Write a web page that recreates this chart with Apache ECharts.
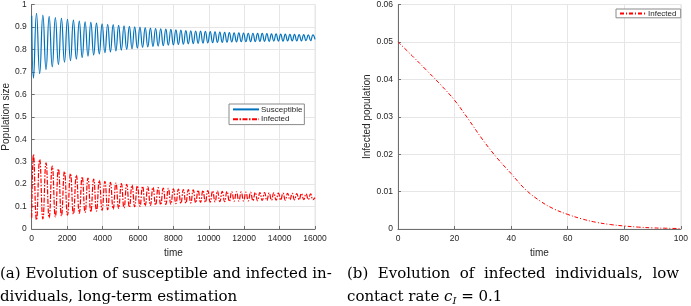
<!DOCTYPE html>
<html><head><meta charset="utf-8">
<script src="https://cdn.jsdelivr.net/npm/echarts@6/dist/echarts.min.js"></script>
<style>html,body{margin:0;padding:0;background:#fff}#c{width:691px;height:306px}</style>
</head><body><div id="c"></div>
<script>
// ---- Panel (a): long-term oscillation, extrema ----
const startTime = 0, endTime = 16000;
const susceptibleStart = 0.95, susceptibleEnd = 0.845;
const infectedStart = 0.05, infectedEnd = 0.14;

// times of susceptible troughs (= infected peaks)
const troughTimes = [100,450,808,1160,1508,1850,2188,2521,2851,3177,3499,3818,4133,4446,4755,5062,5365,5666,5965,6262,6557,6850,7141,7430,7717,8002,8285,8566,8845,9122,9398,9672,9946,10218,10490,10760,11030,11298,11566,11832,12098,12362,12626,12888,13150,13412,13672,13933,14193,14453,14713,14973,15233,15493,15753];
// times of susceptible peaks (= infected troughs)
const peakTimes = [270,630,985,1335,1680,2020,2355,2687,3015,3339,3659,3976,4290,4601,4909,5214,5516,5816,6114,6410,6704,6996,7286,7574,7860,8144,8426,8706,8984,9260,9535,9809,10082,10354,10625,10895,11164,11432,11699,11965,12230,12494,12757,13019,13281,13542,13803,14063,14323,14583,14843,15103,15363,15623,15883];

const susceptibleTroughs = [0.672,0.692,0.710,0.722,0.733,0.743,0.750,0.757,0.764,0.770,0.775,0.780,0.785,0.789,0.793,0.797,0.800,0.803,0.806,0.809,0.811,0.813,0.815,0.817,0.819,0.820,0.822,0.823,0.825,0.826,0.827,0.828,0.829,0.830,0.831,0.831,0.832,0.833,0.833,0.834,0.834,0.835,0.835,0.836,0.836,0.836,0.837,0.837,0.837,0.838,0.838,0.838,0.838,0.839,0.839];
const susceptiblePeaks = [0.961,0.953,0.947,0.942,0.938,0.934,0.930,0.926,0.923,0.920,0.917,0.914,0.912,0.910,0.907,0.905,0.903,0.901,0.899,0.897,0.895,0.893,0.892,0.890,0.889,0.887,0.886,0.884,0.883,0.882,0.881,0.880,0.879,0.878,0.877,0.876,0.875,0.874,0.874,0.873,0.872,0.872,0.871,0.871,0.870,0.869,0.869,0.868,0.868,0.867,0.867,0.866,0.866,0.865,0.865];
const infectedPeaks = [0.332,0.310,0.295,0.280,0.267,0.256,0.247,0.240,0.233,0.227,0.222,0.217,0.212,0.208,0.205,0.202,0.199,0.196,0.193,0.190,0.188,0.186,0.184,0.182,0.181,0.179,0.178,0.176,0.175,0.174,0.173,0.172,0.171,0.170,0.169,0.168,0.167,0.166,0.166,0.165,0.164,0.164,0.163,0.162,0.162,0.161,0.161,0.160,0.160,0.159,0.159,0.158,0.158,0.157,0.157];
const infectedTroughs = [0.040,0.045,0.050,0.054,0.058,0.062,0.066,0.070,0.074,0.077,0.080,0.083,0.086,0.089,0.092,0.094,0.097,0.099,0.101,0.103,0.105,0.107,0.108,0.110,0.111,0.113,0.114,0.115,0.116,0.117,0.118,0.119,0.120,0.121,0.122,0.122,0.123,0.124,0.124,0.125,0.125,0.126,0.126,0.127,0.127,0.128,0.128,0.129,0.129,0.130,0.130,0.130,0.131,0.131,0.131];

// ---- Panel (b): low contact rate ----
const lowTimes = [0,5,10,15,20,25,30,35,40,45,50,55,60,65,70,75,80,85,90,95,100];
const lowInfected = [0.0500,0.0463,0.0425,0.0386,0.0344,0.0292,0.0238,0.0190,0.0148,0.0106,0.0076,0.0054,0.0039,0.0027,0.0018,0.0012,0.0008,0.0005,0.0003,0.0002,0.0001];

// build series data
const sData = [[startTime, susceptibleStart]];
const iData = [[startTime, infectedStart]];
for (let k = 0; k < peakTimes.length; k++) {
  sData.push([troughTimes[k], susceptibleTroughs[k]]);
  sData.push([peakTimes[k], susceptiblePeaks[k]]);
  iData.push([troughTimes[k], infectedPeaks[k]]);
  iData.push([peakTimes[k], infectedTroughs[k]]);
}
sData.push([endTime, susceptibleEnd]);
iData.push([endTime, infectedEnd]);
const lowData = lowTimes.map((t, i) => [t, lowInfected[i]]);

const AX = '#6e6e6e', TXT = '#262626', GRID = '#e6e6e6';
const SANS = 'Liberation Sans, Arial, sans-serif';
const SERIF = 'DejaVu Serif, serif';
const CAP = '15px ' + SERIF;
const fmt = d => v => String(+v.toFixed(d));

function xAxis(grid, max, interval) {
  return {
    type: 'value', gridIndex: grid, min: 0, max: max, interval: interval,
    name: 'time', nameLocation: 'middle', nameGap: 19,
    nameTextStyle: { fontFamily: SANS, fontSize: 10, color: TXT },
    axisLine: { onZero: false, lineStyle: { color: AX, width: 1 } },
    axisTick: { inside: true, length: 3, lineStyle: { color: AX } },
    axisLabel: { fontFamily: SANS, fontSize: 8.5, color: TXT, margin: 5, formatter: fmt(0) },
    splitLine: { show: true, lineStyle: { color: GRID, width: 1 } }
  };
}
function yAxis(grid, max, interval, name, gap, dec) {
  return {
    type: 'value', gridIndex: grid, min: 0, max: max, interval: interval,
    name: name, nameLocation: 'middle', nameGap: gap,
    nameTextStyle: { fontFamily: SANS, fontSize: 10, color: TXT },
    axisLine: { onZero: false, lineStyle: { color: AX, width: 1 } },
    axisTick: { inside: true, length: 3, lineStyle: { color: AX } },
    axisLabel: { fontFamily: SANS, fontSize: 8.5, color: TXT, margin: 5, formatter: fmt(dec) },
    splitLine: { show: true, lineStyle: { color: GRID, width: 1 } }
  };
}

const legendCommon = {
  orient: 'vertical', itemWidth: 26, itemHeight: 11, itemGap: 1,
  backgroundColor: '#fff', borderColor: '#8a8a8a', borderWidth: 1, borderRadius: 0,
  itemStyle: { opacity: 0 },
  textStyle: { fontFamily: SANS, fontSize: 8, color: TXT, padding: [0, 0, 0, -3] }
};

const chart = echarts.init(document.getElementById('c'), null, { renderer: 'canvas' });
chart.setOption({
  animation: false,
  backgroundColor: '#fff',
  grid: [
    { left: 28.5, right: 376, top: 4, bottom: 77, show: true, borderColor: GRID, borderWidth: 1 },
    { left: 398, right: 8, top: 4, bottom: 77, show: true, borderColor: GRID, borderWidth: 1 }
  ],
  xAxis: [xAxis(0, 16000, 2000), xAxis(1, 100, 20)],
  yAxis: [yAxis(0, 1, 0.1, 'Population size', 19, 2), yAxis(1, 0.06, 0.01, 'Infected population', 24, 3)],
  legend: [
    Object.assign({}, legendCommon, { left: 229, top: 104, padding: [1, 2, 1, 3], data: ['Susceptible', 'Infected'] }),
    Object.assign({}, legendCommon, { left: 616, top: 9, padding: [0, 2, 0, 3], data: ['Infected '] })
  ],
  series: [
    { name: 'Susceptible', type: 'line', xAxisIndex: 0, yAxisIndex: 0, data: sData, smooth: 0.5,
      showSymbol: false, symbol: 'none', lineStyle: { color: '#0072BD', width: 1.2 }, itemStyle: { color: '#0072BD' } },
    { name: 'Infected', type: 'line', xAxisIndex: 0, yAxisIndex: 0, data: iData, smooth: 0.5,
      showSymbol: false, symbol: 'none', lineStyle: { color: '#FF0000', width: 1.2, type: [5, 1.5, 1.5, 1.5] }, itemStyle: { color: '#FF0000' } },
    { name: 'Infected ', type: 'line', xAxisIndex: 1, yAxisIndex: 1, data: lowData, smooth: 0.4,
      showSymbol: false, symbol: 'none', lineStyle: { color: '#FF0000', width: 1, type: [4, 2, 1, 2] }, itemStyle: { color: '#FF0000' } }
  ],
  graphic: [
    { type: 'text', left: 0, top: 267, style: { text: '(a) Evolution of susceptible and infected in-', font: CAP, fill: '#000' } },
    { type: 'text', left: 0, top: 290, style: { text: 'dividuals, long-term estimation', font: CAP, fill: '#000' } },
    { type: 'text', left: 347, top: 267, style: { text: '(b)  Evolution  of  infected  individuals,  low', font: CAP, fill: '#000' } },
    { type: 'text', left: 347, top: 290, style: {
        text: 'contact rate {it|c}{sub|I} = 0.1', font: CAP, fill: '#000',
        rich: { it: { fontStyle: 'italic', fontFamily: SERIF, fontSize: 15 },
                sub: { fontStyle: 'italic', fontFamily: SERIF, fontSize: 10, padding: [7, 0, 0, 0] } } } }
  ]
});
</script></body></html>
